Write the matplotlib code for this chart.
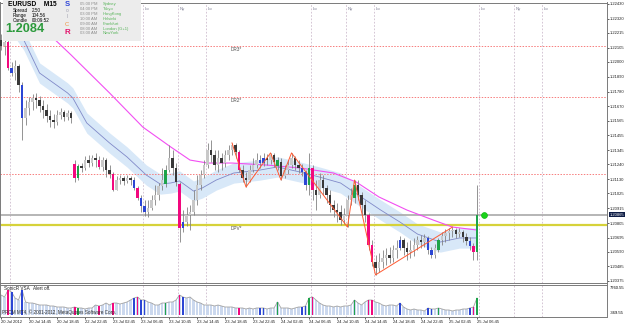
"""
EURUSD M15 terminal screenshot, redrawn with matplotlib.
"""

import numpy as np
import matplotlib.pyplot as plt
from matplotlib.transforms import blended_transform_factory

W, H = 625, 325

# candles are 30 minute bars, x is counted in 15 minute steps
BAR_STEP = 2

opens = [
    1.22163, 1.22118, 1.22148, 1.21956, 1.21919, 1.21970, 1.21829, 1.21585, 1.21659, 1.21703,
    1.21733, 1.21718, 1.21673, 1.21644, 1.21599, 1.21569, 1.21554, 1.21607, 1.21629, 1.21592,
    1.21622, 1.21243, 1.21139, 1.21228, 1.21214, 1.21273, 1.21251, 1.21288, 1.21273, 1.21221,
    1.21273, 1.21198, 1.21168, 1.21050, 1.21124, 1.21139, 1.21117, 1.21139, 1.21124, 1.21065,
    1.20991, 1.20931, 1.20887, 1.20917, 1.20976, 1.21013, 1.21080, 1.21094, 1.21198, 1.21288,
    1.21214, 1.21094, 1.20768, 1.20812, 1.20865, 1.20887, 1.20976, 1.21087, 1.21161, 1.21236,
    1.21347, 1.21310, 1.21236, 1.21288, 1.21251, 1.21310, 1.21347, 1.21384, 1.21332, 1.21198,
    1.21139, 1.21124, 1.21198, 1.21236, 1.21273, 1.21251, 1.21288, 1.21273, 1.21310, 1.21228,
    1.21258, 1.21154, 1.21198, 1.21236, 1.21288, 1.21236, 1.21214, 1.21183, 1.21087, 1.21214,
    1.21050, 1.21013, 1.21124, 1.21065, 1.21013, 1.20939, 1.20902, 1.20887, 1.20827, 1.20865,
    1.20976, 1.20991, 1.21087, 1.21013, 1.20939, 1.20865, 1.20642, 1.20516, 1.20472, 1.20516,
    1.20546, 1.20568, 1.20546, 1.20605, 1.20620, 1.20679, 1.20620, 1.20590, 1.20605, 1.20642,
    1.20679, 1.20664, 1.20694, 1.20605, 1.20568, 1.20605, 1.20679, 1.20709, 1.20731, 1.20746,
    1.20753, 1.20724, 1.20738, 1.20701, 1.20672, 1.20635, 1.20590,
]
closes = [
    1.22118, 1.22148, 1.21956, 1.21919, 1.21970, 1.21829, 1.21585, 1.21659, 1.21703, 1.21733,
    1.21718, 1.21673, 1.21644, 1.21599, 1.21569, 1.21554, 1.21607, 1.21629, 1.21592, 1.21622,
    1.21585, 1.21139, 1.21228, 1.21214, 1.21273, 1.21251, 1.21288, 1.21273, 1.21221, 1.21273,
    1.21198, 1.21168, 1.21050, 1.21124, 1.21139, 1.21117, 1.21139, 1.21124, 1.21065, 1.20991,
    1.20931, 1.20887, 1.20917, 1.20976, 1.21013, 1.21080, 1.21124, 1.21198, 1.21288, 1.21214,
    1.21109, 1.20768, 1.20812, 1.20865, 1.20887, 1.20976, 1.21087, 1.21161, 1.21236, 1.21347,
    1.21310, 1.21236, 1.21288, 1.21251, 1.21310, 1.21347, 1.21384, 1.21332, 1.21198, 1.21139,
    1.21124, 1.21198, 1.21236, 1.21273, 1.21251, 1.21288, 1.21273, 1.21310, 1.21258, 1.21273,
    1.21154, 1.21198, 1.21236, 1.21288, 1.21236, 1.21214, 1.21183, 1.21087, 1.21214, 1.21050,
    1.21013, 1.21124, 1.21065, 1.21013, 1.20939, 1.20902, 1.20887, 1.20827, 1.20865, 1.20976,
    1.21013, 1.21087, 1.21013, 1.20939, 1.20865, 1.20642, 1.20516, 1.20472, 1.20516, 1.20546,
    1.20568, 1.20546, 1.20605, 1.20620, 1.20679, 1.20620, 1.20590, 1.20605, 1.20642, 1.20679,
    1.20664, 1.20694, 1.20605, 1.20568, 1.20620, 1.20679, 1.20709, 1.20731, 1.20746, 1.20753,
    1.20724, 1.20738, 1.20701, 1.20672, 1.20635, 1.20590, 1.20865,
]
highs = [
    1.22207, 1.22178, 1.22163, 1.22000, 1.22015, 1.21985, 1.21851, 1.21718, 1.21740, 1.21762,
    1.21770, 1.21748, 1.21718, 1.21688, 1.21644, 1.21614, 1.21644, 1.21659, 1.21644, 1.21644,
    1.21637, 1.21273, 1.21243, 1.21251, 1.21302, 1.21310, 1.21310, 1.21325, 1.21302, 1.21295,
    1.21288, 1.21236, 1.21183, 1.21154, 1.21161, 1.21154, 1.21161, 1.21154, 1.21146, 1.21080,
    1.21013, 1.20976, 1.20976, 1.21013, 1.21087, 1.21102, 1.21214, 1.21236, 1.21384, 1.21347,
    1.21251, 1.21109, 1.20902, 1.20924, 1.20939, 1.21050, 1.21161, 1.21198, 1.21273, 1.21399,
    1.21421, 1.21347, 1.21347, 1.21325, 1.21347, 1.21384, 1.21399, 1.21399, 1.21347, 1.21236,
    1.21183, 1.21236, 1.21288, 1.21325, 1.21310, 1.21325, 1.21317, 1.21325, 1.21325, 1.21295,
    1.21288, 1.21236, 1.21273, 1.21325, 1.21302, 1.21273, 1.21243, 1.21198, 1.21325, 1.21236,
    1.21124, 1.21176, 1.21161, 1.21087, 1.21050, 1.20976, 1.20954, 1.20939, 1.20917, 1.21013,
    1.21065, 1.21124, 1.21124, 1.21035, 1.20976, 1.20880, 1.20679, 1.20568, 1.20583, 1.20605,
    1.20620, 1.20627, 1.20642, 1.20679, 1.20709, 1.20694, 1.20664, 1.20679, 1.20694, 1.20709,
    1.20716, 1.20724, 1.20709, 1.20627, 1.20650, 1.20694, 1.20738, 1.20760, 1.20768, 1.20775,
    1.20768, 1.20768, 1.20753, 1.20731, 1.20701, 1.20657, 1.21087,
]
lows = [
    1.22089, 1.22052, 1.21941, 1.21896, 1.21866, 1.21777, 1.21421, 1.21532, 1.21607, 1.21644,
    1.21659, 1.21629, 1.21585, 1.21554, 1.21517, 1.21510, 1.21532, 1.21577, 1.21562, 1.21569,
    1.21547, 1.21109, 1.21124, 1.21183, 1.21198, 1.21221, 1.21228, 1.21221, 1.21206, 1.21191,
    1.21146, 1.21139, 1.21043, 1.21065, 1.21094, 1.21087, 1.21102, 1.21087, 1.21050, 1.20976,
    1.20887, 1.20857, 1.20850, 1.20902, 1.20939, 1.20976, 1.21050, 1.21072, 1.21183, 1.21161,
    1.21080, 1.20664, 1.20738, 1.20782, 1.20753, 1.20865, 1.20939, 1.21050, 1.21139, 1.21214,
    1.21258, 1.21198, 1.21183, 1.21198, 1.21221, 1.21273, 1.21310, 1.21288, 1.21183, 1.21109,
    1.21072, 1.21109, 1.21183, 1.21214, 1.21214, 1.21228, 1.21236, 1.21243, 1.21221, 1.21198,
    1.21124, 1.21139, 1.21168, 1.21214, 1.21198, 1.21176, 1.21154, 1.21050, 1.21013, 1.20976,
    1.20902, 1.20991, 1.21013, 1.20954, 1.20887, 1.20850, 1.20812, 1.20790, 1.20798, 1.20775,
    1.20939, 1.20954, 1.20976, 1.20865, 1.20812, 1.20605, 1.20486, 1.20420, 1.20442, 1.20472,
    1.20494, 1.20509, 1.20516, 1.20546, 1.20605, 1.20568, 1.20531, 1.20546, 1.20561, 1.20605,
    1.20620, 1.20627, 1.20575, 1.20546, 1.20546, 1.20590, 1.20642, 1.20664, 1.20679, 1.20701,
    1.20694, 1.20701, 1.20664, 1.20642, 1.20605, 1.20531, 1.20531,
]
volume = [
    5091, 4583, 6361, 5853, 4329, 3821, 6361, 3313, 3059, 3059,
    2805, 2551, 2551, 2551, 2297, 2297, 2043, 2043, 2043, 1789,
    1789, 2043, 1789, 1789, 1535, 1789, 1789, 2551, 2297, 2551,
    3059, 2551, 3059, 3059, 2805, 3059, 3313, 3821, 4329, 4583,
    3821, 3821, 3313, 3059, 2551, 2551, 3059, 3059, 3313, 3313,
    3821, 5091, 4583, 4329, 4583, 3821, 3313, 3059, 2551, 2551,
    2551, 2297, 2551, 2297, 2043, 2043, 2043, 1789, 1789, 1789,
    1535, 1789, 1535, 1789, 1789, 1789, 1535, 1789, 1789, 3313,
    1789, 1789, 1789, 1535, 1789, 2043, 2043, 2297, 4329, 4583,
    3821, 3059, 2551, 2297, 2297, 2043, 2297, 2043, 2297, 2297,
    2551, 3821, 3059, 2551, 3313, 3821, 3821, 3313, 3059, 2551,
    2297, 2551, 2551, 2297, 3059, 2043, 1535, 1281, 1535, 1281,
    1281, 1027, 1789, 1535, 1535, 1789, 1535, 1281, 1281, 1027,
    1281, 1281, 1535, 1535, 1789, 2043, 4329,
]
vsa_magenta = [2, 21, 28, 32, 39, 51, 68, 89, 105, 106, 135]
vsa_blue = [3, 6, 38, 40, 41, 52, 74, 75, 86, 87, 114, 122, 123, 134]
vsa_green = [22, 47, 79, 88, 101, 125, 136]

# moving averages and zigzag, vertices
slow_ma_x = [21, 31, 40, 62, 81, 97, 108, 118, 132, 152, 171, 190, 203, 216, 232, 247, 258, 272]
slow_ma_y = [1.22348, 1.22163, 1.22052, 1.21770, 1.21517, 1.21369, 1.21272, 1.21250, 1.21250,
             1.21235, 1.21213, 1.21176, 1.21109, 1.20998, 1.20901, 1.20827, 1.20775, 1.20753]
fast_ma_x = [7, 13, 22, 38, 41, 49, 62, 72, 83, 91, 97, 102, 110, 115, 123, 133, 148, 158,
             171, 182, 194, 205, 217, 228, 238, 251, 262, 272]
fast_ma_y = [1.22274, 1.22163, 1.21918, 1.21770, 1.21733, 1.21547, 1.21399, 1.21295, 1.21161,
             1.21094, 1.21102, 1.21117, 1.21042, 1.21065, 1.21124, 1.21176, 1.21198, 1.21221,
             1.21183, 1.21146, 1.21102, 1.21005, 1.20901, 1.20812, 1.20723, 1.20664, 1.20694,
             1.20694]
band_half = 0.00075
zigzag_x = [132, 140, 154, 160, 166, 198, 202, 214, 258]
zigzag_y = [1.21399, 1.21072, 1.21325, 1.21124, 1.21325, 1.20775, 1.21124, 1.20420, 1.20775]

# pivot levels and current bid
dr3, dr2, dr1, dpv = 1.22118, 1.21740, 1.21169, 1.20792
bid = 1.20865
bid_marker_x = 276

price_ticks = ["1.22430", "1.22320", "1.22215", "1.22105", "1.22000", "1.21890", "1.21780",
               "1.21670", "1.21565", "1.21455", "1.21345", "1.21240", "1.21130", "1.21025",
               "1.20915", "1.20805", "1.20695", "1.20590", "1.20485", "1.20375"]
time_ticks = list(range(0, 273, 16))
time_labels = ["20 Jul 2012", "20 Jul 14:45", "20 Jul 18:45", "22 Jul 22:45", "23 Jul 02:45",
               "23 Jul 06:45", "23 Jul 10:45", "23 Jul 14:45", "23 Jul 18:45", "23 Jul 22:45",
               "24 Jul 02:45", "24 Jul 06:45", "24 Jul 10:45", "24 Jul 14:45", "24 Jul 18:45",
               "24 Jul 22:45", "25 Jul 02:45", "25 Jul 06:45"]
session_x = [5, 81, 101, 117, 177, 197, 213, 273, 293, 309]
session_names = ["", "Lo", "Ny", "Lo", "Lo", "Ny", "Lo", "Lo", "Ny", "Lo"]
vol_top, vol_bottom = 7760.55, -369.55

clock_times = ["05:00 PM", "04:00 PM", "03:00 PM", "10:00 AM", "09:00 AM", "08:00 AM", "03:00 AM"]
clock_cities = ["Sydney", "Tokyo", "HongKong", "Helsinki", "Frankfurt", "London (G+1)", "NewYork"]

plt.rcParams['font.family'] = ['Liberation Sans', 'DejaVu Sans']

GRID = '#cdbccd'
EDGE = '#7a7a7a'
AXIS_FS = 3.0


def px_box(left, top, right, bottom):
    return [left / W, 1 - bottom / H, (right - left) / W, (bottom - top) / H]


def bar_color(j, o, c):
    if j in vsa_magenta:
        return '#f2087e'
    if j in vsa_blue:
        return '#2c46d4'
    if j in vsa_green:
        return '#1ea34a'
    return '#c8c8c8' if c >= o else '#383838'


fig = plt.figure(figsize=(W / 100, H / 100), dpi=100)
fig.patch.set_facecolor('white')

ax = fig.add_axes(px_box(0, 2.5, 607, 283))
vx = fig.add_axes(px_box(0, 284.5, 607, 316.5), sharex=ax)

k = np.arange(len(closes)) * BAR_STEP
o, hi, lo, c = (np.array(a) for a in (opens, highs, lows, closes))
colors = [bar_color(j, o[j], c[j]) for j in range(len(c))]

# --- main price window ---
fx, fy = np.array(fast_ma_x), np.array(fast_ma_y)
ax.fill_between(fx, fy - band_half, fy + band_half, color='#d8e8f8', lw=0, zorder=1)
ax.plot(fx, fy, color='#8089c8', lw=0.6, zorder=2)
ax.plot(slow_ma_x, slow_ma_y, color='#f24ef2', lw=0.8, zorder=2)

for xs in session_x:
    ax.axvline(xs, color=GRID, lw=0.6, ls=(0, (2, 2)), zorder=0)
    vx.axvline(xs, color=GRID, lw=0.6, ls=(0, (2, 2)), zorder=0)

for lvl in (dr3, dr2, dr1):
    ax.axhline(lvl, color='#f77d7d', lw=0.7, ls=(0, (1.5, 1.5)), zorder=1)
ax.axhline(dpv, color='#d6d23a', lw=1.6, zorder=1)
ax.axhline(bid, color='#a9a9a9', lw=1.2, zorder=1)

ax.vlines(k, np.minimum(lo, np.minimum(o, c)), np.maximum(hi, np.maximum(o, c)),
          colors='#828282', lw=0.6, zorder=3)
ax.bar(k, np.maximum(np.abs(c - o), 0.00002), bottom=np.minimum(o, c), width=1.2,
       color=colors, lw=0, zorder=4)

ax.plot(zigzag_x, zigzag_y, color='#ff5a32', lw=0.7, zorder=5)
ax.plot([bid_marker_x], [bid], 'o', ms=4.2, color='#19d219', mec='#0fb80f', mew=0.5, zorder=6)

for lvl, name in ((dr3, 'DR3*'), (dr2, 'DR2*'), (dpv, 'DPV*')):
    ax.text(131, lvl - 0.00007, name, fontsize=3.4, color='#505050', va='top', zorder=6)

for xs, name in zip(session_x, session_names):
    ax.text(xs + 1.2, 1.22395, name, fontsize=3.1, color='#7a7a90', va='center')

ax.set_xlim(-0.6, 346.3)
ax.set_ylim(1.20360, 1.22441)
ax.yaxis.tick_right()
ax.set_yticks([float(t) for t in price_ticks])
ax.set_yticklabels(price_ticks)
ax.tick_params(axis='y', labelsize=AXIS_FS, length=1.5, width=0.5, pad=0.6, colors='#202020')
ax.tick_params(axis='x', bottom=False, labelbottom=False)
for s in ax.spines.values():
    s.set_color(EDGE)
    s.set_linewidth(0.7)

tr = blended_transform_factory(ax.transAxes, ax.transData)
ax.text(1.004, bid, '1.20865', transform=tr, fontsize=AXIS_FS, color='white', va='center',
        ha='left', clip_on=False, zorder=10,
        bbox=dict(facecolor='#0d1c45', edgecolor='none', pad=0.4))

# --- volume window ---
vol = np.array(volume)
vx.bar(k, vol, width=1.2, color='#cbd8ee', lw=0, zorder=1)
vx.plot(k, vol, color='#a3a3a3', lw=0.6, zorder=2)
for idx, col in ((vsa_blue, '#2c46d4'), (vsa_green, '#1ea34a'), (vsa_magenta, '#f2087e')):
    idx = np.array(idx)
    vx.bar(k[idx], vol[idx], width=1.1, color=col, lw=0, zorder=3)

vx.set_ylim(vol_bottom, vol_top)
vx.set_yticks([])
vx.set_xticks(time_ticks)
vx.set_xticklabels(time_labels, ha='left')
vx.tick_params(axis='x', labelsize=AXIS_FS, length=1.5, width=0.5, pad=0.8, colors='#202020')
for s in vx.spines.values():
    s.set_color(EDGE)
    s.set_linewidth(0.7)
vx.text(0.006, 0.86, 'SonicR VSA   Alert off.', transform=vx.transAxes, fontsize=3.3,
        color='#202020', va='center')
vx.text(0.004, 0.12, 'PRCM MT4, \u00a9 2001-2012, MetaQuotes Software Corp.',
        transform=vx.transAxes, fontsize=3.3, color='#303030', va='center')
vx.text(1.004, 0.88, '7760.55', transform=vx.transAxes, fontsize=AXIS_FS, va='center',
        clip_on=False)
vx.text(1.004, 0.1, '-369.55', transform=vx.transAxes, fontsize=AXIS_FS, va='center',
        clip_on=False)

# --- info panel in the top left corner ---
ib = fig.add_axes(px_box(3, 0, 141, 41))
ib.set_xlim(3, 141)
ib.set_ylim(41, 0)
ib.set_facecolor('#ececec')
ib.set_xticks([])
ib.set_yticks([])
for s in ib.spines.values():
    s.set_visible(False)

ib.text(8, 5, 'EURUSD    M15', fontsize=4.8, weight='bold', va='center')
ib.text(13, 10.5, 'Spread', fontsize=3.3, va='center')
ib.text(32, 10.5, '2.50', fontsize=3.3, va='center')
ib.text(13, 15.5, 'Range', fontsize=3.3, va='center')
ib.text(32, 15.5, '104.56', fontsize=3.3, va='center')
ib.text(13, 20.7, 'Candle', fontsize=3.3, va='center')
ib.text(32, 20.7, '00:09:52', fontsize=3.3, va='center')
ib.text(5, 29.5, '1.2084', fontsize=9.2, weight='bold', color='#2c9a3c', va='center')

ib.text(67, 5, 'S', fontsize=5.5, weight='bold', color='#2e46d8', va='center', ha='center')
ib.text(67, 11, 'o', fontsize=3.5, color='#a0a0b0', va='center', ha='center')
ib.text(67, 16.5, 'I', fontsize=3.8, color='#a0a0b0', va='center', ha='center')
ib.text(67, 24, 'C', fontsize=4.2, color='#f0903a', va='center', ha='center')
ib.text(67, 33, 'R', fontsize=5.8, weight='bold', color='#e3136c', va='center', ha='center')

for row, (tm, city) in enumerate(zip(clock_times, clock_cities)):
    yy = 4.3 + row * 4.85
    ib.text(80, yy, tm, fontsize=3.0, color='#8c8c8c', va='center')
    ib.text(103, yy, city, fontsize=3.0, color='#58b45a', va='center')

fig.savefig('out.png', dpi=100, facecolor='white')
